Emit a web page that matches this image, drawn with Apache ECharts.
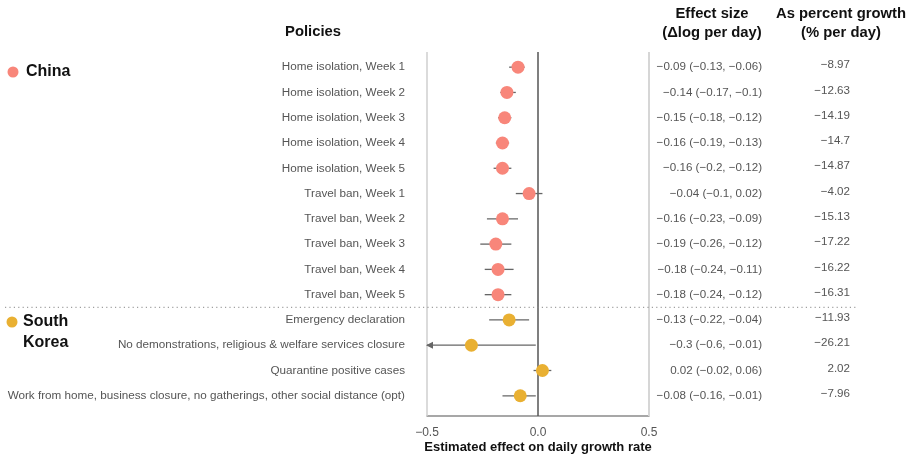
<!DOCTYPE html>
<html>
<head>
<meta charset="utf-8">
<script src="https://cdn.jsdelivr.net/npm/echarts@6/dist/echarts.min.js"></script>
<style>
  html, body { margin: 0; padding: 0; background: #fff; }
  #chart { width: 910px; height: 454px; }
</style>
</head>
<body>
<div id="chart"></div>
<script>
// Policy rows, top to bottom
const policies = [
  'Home isolation, Week 1',
  'Home isolation, Week 2',
  'Home isolation, Week 3',
  'Home isolation, Week 4',
  'Home isolation, Week 5',
  'Travel ban, Week 1',
  'Travel ban, Week 2',
  'Travel ban, Week 3',
  'Travel ban, Week 4',
  'Travel ban, Week 5',
  'Emergency declaration',
  'No demonstrations, religious & welfare services closure',
  'Quarantine positive cases',
  'Work from home, business closure, no gatherings, other social distance (opt)'
];
const countries = [
  'China', 'China', 'China', 'China', 'China',
  'China', 'China', 'China', 'China', 'China',
  'South Korea', 'South Korea', 'South Korea', 'South Korea'
];
// Effect size (Δlog per day) with 95% interval
const estimate = [-0.09, -0.14, -0.15, -0.16, -0.16, -0.04, -0.16, -0.19, -0.18, -0.18, -0.13, -0.3, 0.02, -0.08];
const lower    = [-0.13, -0.17, -0.18, -0.19, -0.2, -0.1, -0.23, -0.26, -0.24, -0.24, -0.22, -0.6, -0.02, -0.16];
const upper    = [-0.06, -0.1, -0.12, -0.13, -0.12, 0.02, -0.09, -0.12, -0.11, -0.12, -0.04, -0.01, 0.06, -0.01];
// As percent growth (% per day)
const percentGrowth = [-8.97, -12.63, -14.19, -14.7, -14.87, -4.02, -15.13, -17.22, -16.22, -16.31, -11.93, -26.21, 2.02, -7.96];
// X axis ticks
const xTicks = [-0.5, 0.0, 0.5];

const X_MIN = xTicks[0], X_MAX = xTicks[xTicks.length - 1];
const FONT = '"Liberation Sans", Arial, Helvetica, sans-serif';
const COLORS = { 'China': '#F8867A', 'South Korea': '#E9B032' };

const fmt = v => (v < 0 ? '\u2212' : '') + String(Math.abs(v));
const rowIdx = policies.map((_, i) => i);

const chart = echarts.init(document.getElementById('chart'), null, { renderer: 'canvas' });

const pointsFor = c => rowIdx.filter(i => countries[i] === c).map(i => [estimate[i], i]);

const header = (text, x, y) => ({
  type: 'text', x: x, y: y,
  style: { text: text, font: 'bold 14.8px ' + FONT, fill: '#111', textAlign: 'center', textVerticalAlign: 'middle' }
});

const option = {
  backgroundColor: '#fff',
  animation: false,
  grid: { left: 427, right: 261, top: 52, bottom: 38, containLabel: false, outerBoundsMode: 'none' },
  xAxis: {
    type: 'value', min: X_MIN, max: X_MAX, interval: 0.5,
    axisLine: { show: true, onZero: false, lineStyle: { color: '#8a8a8a', width: 1.5 } },
    axisTick: { show: false },
    splitLine: { show: false },
    axisLabel: {
      color: '#555', fontSize: 12, fontFamily: FONT, margin: 11,
      formatter: v => (v < 0 ? '\u2212' : '') + Math.abs(v).toFixed(1)
    },
    name: 'Estimated effect on daily growth rate',
    nameLocation: 'middle', nameGap: 25, nameMoveOverlap: false,
    nameTextStyle: { color: '#111', fontSize: 13, fontWeight: 'bold', fontFamily: FONT }
  },
  yAxis: {
    type: 'value', inverse: true, min: -0.6, max: 13.8, show: false,
    axisLine: { onZero: false }
  },
  graphic: [
    header('Policies', 313, 32),
    header('Effect size', 712, 14),
    header('(\u0394log per day)', 712, 33),
    header('As percent growth', 841, 14),
    header('(% per day)', 841, 33),
    { type: 'circle', shape: { cx: 13, cy: 72, r: 5.5 }, style: { fill: COLORS['China'] } },
    { type: 'text', x: 26, y: 72, style: { text: 'China', font: 'bold 16px ' + FONT, fill: '#111', textVerticalAlign: 'middle' } },
    { type: 'circle', shape: { cx: 12, cy: 322, r: 5.5 }, style: { fill: COLORS['South Korea'] } },
    { type: 'text', x: 23, y: 322, style: { text: 'South', font: 'bold 16px ' + FONT, fill: '#111', textVerticalAlign: 'middle' } },
    { type: 'text', x: 23, y: 343, style: { text: 'Korea', font: 'bold 16px ' + FONT, fill: '#111', textVerticalAlign: 'middle' } }
  ],
  series: [
    {
      // plot frame, zero line and group separator
      type: 'custom', name: 'frame', silent: true, clip: false, z: 1,
      data: [[0, 0]],
      renderItem: (params, api) => {
        const top = api.coord([X_MIN, -0.6])[1];
        const bot = api.coord([X_MIN, 13.8])[1];
        const xl = api.coord([X_MIN, 0])[0];
        const x0 = api.coord([0, 0])[0];
        const xr = api.coord([X_MAX, 0])[0];
        const sep = api.coord([0, 9.5])[1];
        return {
          type: 'group',
          children: [
            { type: 'line', shape: { x1: xl, y1: top, x2: xl, y2: bot }, style: { stroke: '#cfcfcf', lineWidth: 1.5 } },
            { type: 'line', shape: { x1: xr, y1: top, x2: xr, y2: bot }, style: { stroke: '#d6d6d6', lineWidth: 2 } },
            { type: 'line', shape: { x1: x0, y1: top, x2: x0, y2: bot }, style: { stroke: '#555', lineWidth: 1.5 } },
            { type: 'line', shape: { x1: 5, y1: sep, x2: 856, y2: sep }, style: { stroke: '#888', lineWidth: 1, lineDash: [1.2, 3.2] } }
          ]
        };
      }
    },
    {
      // interval whiskers; clipped intervals end in an arrow at the axis edge
      type: 'custom', name: 'interval', silent: true, clip: false, z: 2,
      data: rowIdx.map(i => [lower[i], upper[i], i]),
      encode: { x: [0, 1], y: 2 },
      renderItem: (params, api) => {
        const l = api.value(0), h = api.value(1), r = api.value(2);
        const p0 = api.coord([Math.max(l, X_MIN), r]);
        const p1 = api.coord([Math.min(h, X_MAX), r]);
        const children = [
          { type: 'line', shape: { x1: p0[0], y1: p0[1], x2: p1[0], y2: p1[1] }, style: { stroke: '#666', lineWidth: 1.3 } }
        ];
        if (l < X_MIN) {
          children.push({
            type: 'polygon',
            shape: { points: [[p0[0] - 1, p0[1]], [p0[0] + 6, p0[1] - 3.5], [p0[0] + 6, p0[1] + 3.5]] },
            style: { fill: '#666' }
          });
        }
        return { type: 'group', children };
      }
    },
    {
      type: 'scatter', name: 'China', z: 3,
      data: pointsFor('China'), symbolSize: 13,
      itemStyle: { color: COLORS['China'], opacity: 1 }
    },
    {
      type: 'scatter', name: 'South Korea', z: 3,
      data: pointsFor('South Korea'), symbolSize: 13,
      itemStyle: { color: COLORS['South Korea'], opacity: 1 }
    },
    {
      // row labels and the two value columns
      type: 'custom', name: 'table', silent: true, clip: false, z: 4,
      data: rowIdx.map(i => [0, i]),
      renderItem: (params, api) => {
        const i = api.value(1);
        const y = api.coord([0, i])[1];
        const effect = fmt(estimate[i]) + ' (' + fmt(lower[i]) + ', ' + fmt(upper[i]) + ')';
        return {
          type: 'group',
          children: [
            { type: 'text', x: 405, y: y, style: { text: policies[i], font: '11.7px ' + FONT, fill: '#555', textAlign: 'right', textVerticalAlign: 'middle' } },
            { type: 'text', x: 762, y: y, style: { text: effect, font: '11.6px ' + FONT, fill: '#555', textAlign: 'right', textVerticalAlign: 'middle' } },
            { type: 'text', x: 850, y: y - 2, style: { text: fmt(percentGrowth[i]), font: '11.6px ' + FONT, fill: '#555', textAlign: 'right', textVerticalAlign: 'middle' } }
          ]
        };
      }
    }
  ]
};

chart.setOption(option);
</script>
</body>
</html>
